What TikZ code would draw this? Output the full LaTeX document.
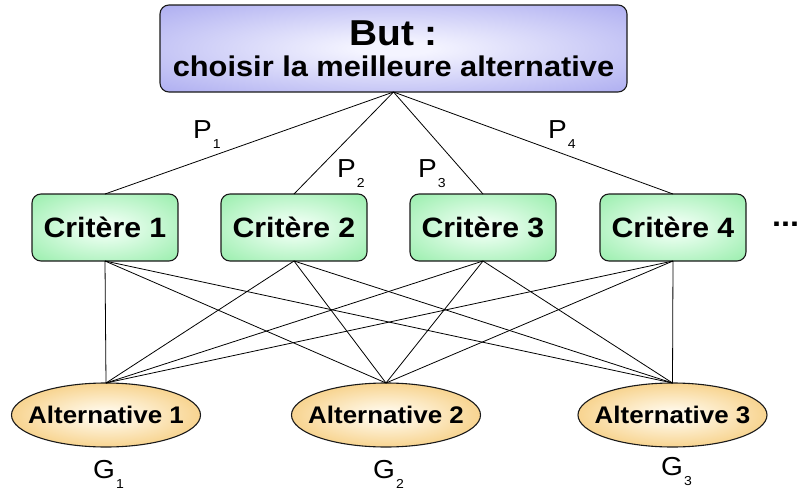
\documentclass[tikz,border=0pt]{standalone}
\usepackage{fontspec}
\setmainfont{Liberation Sans}[FakeStretch=1.08]
\usetikzlibrary{shapes.geometric}
\definecolor{goalIn}{HTML}{F4F4FF}
\definecolor{goalOut}{HTML}{8E8EEA}
\definecolor{critIn}{HTML}{EEFFF3}
\definecolor{critOut}{HTML}{72E68C}
\definecolor{altIn}{HTML}{FFF8E8}
\definecolor{altOut}{HTML}{F0B038}
\definecolor{edgecol}{HTML}{1A1A1A}
\pgfdeclareradialshading{goalshade}{\pgfpointorigin}{color(0bp)=(goalIn); color(4bp)=(goalIn); color(50bp)=(goalOut); color(100bp)=(goalOut)}
\pgfdeclareradialshading{critshade}{\pgfpointorigin}{color(0bp)=(critIn); color(4bp)=(critIn); color(50bp)=(critOut); color(100bp)=(critOut)}
\pgfdeclareradialshading{altshade}{\pgfpointorigin}{color(0bp)=(altIn); color(4bp)=(altIn); color(46bp)=(altOut); color(100bp)=(altOut)}
\tikzset{
  goalbox/.style={draw=edgecol, line width=1.1pt, rounded corners=9pt, shade, shading=goalshade,
    minimum width=467pt, minimum height=87pt, inner sep=0pt, outer sep=0pt, font=\bfseries, align=center},
  critbox/.style={draw=edgecol, line width=1.1pt, rounded corners=9pt, shade, shading=critshade,
    minimum width=146pt, minimum height=67pt, inner sep=0pt, outer sep=0pt, font=\bfseries\fontsize{28}{30}\selectfont},
  altell/.style={ellipse, draw=edgecol, line width=1.1pt, shade, shading=altshade,
    minimum width=189pt, minimum height=64pt, inner sep=0pt, outer sep=0pt, font=\bfseries\fontsize{24}{26}\selectfont},
  link/.style={draw=black, line width=0.8pt},
  wlabel/.style={anchor=base west, inner sep=0pt, font=\fontsize{26}{26}\selectfont},
}
\newcommand{\lowsub}[1]{\hspace{1pt}\raisebox{-10pt}{\fontsize{13}{13}\selectfont #1}}
\begin{document}
\begin{tikzpicture}[x=1pt,y=-1pt]
\useasboundingbox (0,0) rectangle (801,490);
% goal
\node[goalbox] (goal) at (393.5,48.5) {{\fontsize{36}{36}\selectfont But :}\\[9pt]{\fontsize{28.5}{28.5}\selectfont choisir la meilleure alternative}};
% criteria
\node[critbox] (c1) at (105,227.5) {Critère 1};
\node[critbox] (c2) at (294,227.5) {Critère 2};
\node[critbox] (c3) at (483,227.5) {Critère 3};
\node[critbox] (c4) at (673,227.5) {Critère 4};
\node[anchor=base west, inner sep=0pt, font=\bfseries\fontsize{30}{30}\selectfont] (more) at (772,226) {...};
% alternatives
\node[altell] (a1) at (106,415) {\makebox[0pt]{Alternative 1}};
\node[altell] (a2) at (386,415) {\makebox[0pt]{Alternative 2}};
\node[altell] (a3) at (672.5,415) {\makebox[0pt]{Alternative 3}};
% links
\foreach \c in {c1,c2,c3,c4} \draw[link] (goal.south) -- (\c.north);
\foreach \c in {c1,c2,c3,c4} \foreach \a in {a1,a2,a3} \draw[link] (\c.south) -- (\a.north);
% weights
\node[wlabel] (p1) at (193,138) {P\lowsub{1}};
\node[wlabel] (p2) at (337,177) {P\lowsub{2}};
\node[wlabel] (p3) at (418,177) {P\lowsub{3}};
\node[wlabel] (p4) at (548,138) {P\lowsub{4}};
\node[wlabel] (g1) at (93,478) {G\lowsub{1}};
\node[wlabel] (g2) at (373,478) {G\lowsub{2}};
\node[wlabel] (g3) at (661,475) {G\lowsub{3}};
\end{tikzpicture}
\end{document}
